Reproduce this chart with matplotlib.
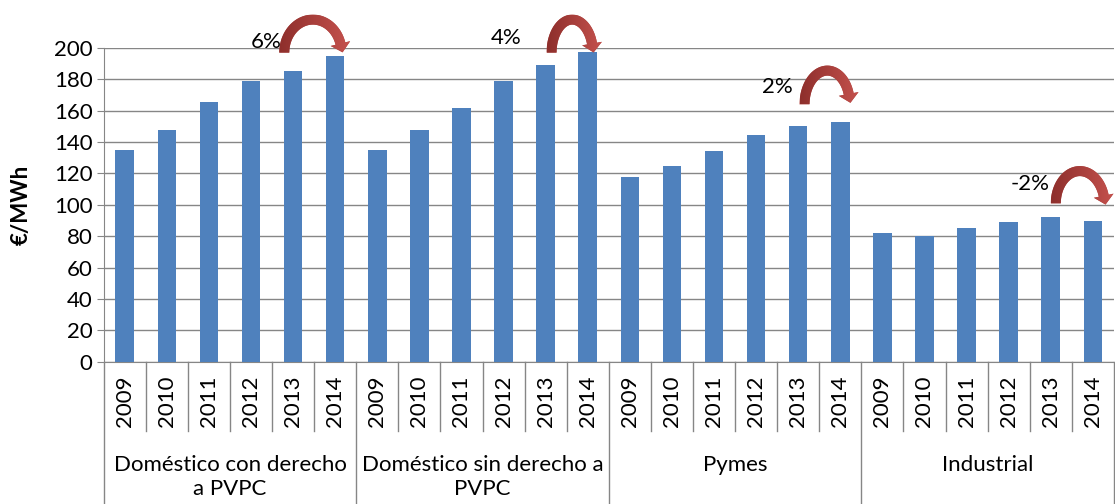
import matplotlib.pyplot as plt
from matplotlib.patches import Polygon
from matplotlib.colors import LinearSegmentedColormap
import matplotlib.transforms as mtrans
import numpy as np

plt.rcParams['font.family'] = ['Lato', 'DejaVu Sans']

years = ['2009', '2010', '2011', '2012', '2013', '2014']
groups = ['Doméstico con derecho\na PVPC', 'Doméstico sin derecho a\nPVPC', 'Pymes', 'Industrial']
dom_con = [135, 148, 165.5, 179, 185, 195]
dom_sin = [135, 148, 161.5, 179, 189, 197.5]
pymes = [117.5, 124.5, 134.5, 144.5, 150, 152.5]
industrial = [82, 80, 85.5, 89, 92, 89.5]
changes = ['6%', '4%', '2%', '-2%']

values = dom_con + dom_sin + pymes + industrial
n = len(years)

fig = plt.figure(figsize=(11.15, 5.04), dpi=100)
ax = fig.add_axes([0.093, 0.282, 0.906, 0.623])

x = np.arange(len(values))
ax.bar(x, values, width=0.44, color='#4F81BD', zorder=3)

XLIM = (-0.5, len(values) - 0.5)
YLIM = (0, 200)
ax.set_xlim(*XLIM)
ax.set_ylim(*YLIM)
ax.set_yticks(range(0, 201, 20))
ax.tick_params(axis='y', labelsize=16, length=5, color='#868686', pad=3)
ax.set_xticks([])
ax.yaxis.grid(True, color='#868686', linewidth=1)
ax.set_axisbelow(True)
for s in ['top', 'right']:
  ax.spines[s].set_visible(False)
for s in ['left', 'bottom']:
  ax.spines[s].set_color('#868686')
ax.set_ylabel('€/MWh', fontsize=16, fontweight='bold')
ax.yaxis.set_label_coords(-0.071, 0.5)

# multi level category axis
trans = mtrans.blended_transform_factory(ax.transData, ax.transAxes)
for i in range(len(values) + 1):
  xb = i - 0.5
  y_end = -0.46 if i % n == 0 else -0.22
  ax.plot([xb, xb], [0, y_end], color='#868686', lw=1, transform=trans, clip_on=False)
for i, v in enumerate(values):
  ax.text(i, -0.125, years[i % n], rotation=90, ha='center', va='center',
          fontsize=16, transform=trans)
for g, name in enumerate(groups):
  ax.text(g * n + (n - 1) / 2, -0.298, name, ha='center', va='top',
          fontsize=16, transform=trans, linespacing=1.2)


# build a curved arrow polygon (in pixels, then back to data coords)
def arch_arrow(xa, ya, xb, yb, ry=33, hw=5, hh=10, hl=9):
  T = ax.transData
  (Lx, Ly), (Rx, Ry) = T.transform([(xa, ya), (xb, yb)])
  cx, rx = (Lx + Rx) / 2, (Rx - Lx) / 2
  t_end = np.arcsin(min(hl / ry, 1.0))
  ts = np.linspace(np.pi, t_end, 60)
  base = Ly + (Ry - Ly) * (1 - ts / np.pi)
  px = cx + rx * np.cos(ts)
  py = base + ry * np.sin(ts)
  tx, ty = rx * np.sin(ts), -ry * np.cos(ts)
  norm = np.hypot(tx, ty)
  tx, ty = tx / norm, ty / norm
  nx, ny = -ty, tx
  outer = np.column_stack([px + nx * hw, py + ny * hw])
  inner = np.column_stack([px - nx * hw, py - ny * hw])
  bx, by = px[-1], py[-1]
  head = np.array([[bx + nx[-1] * hh, by + ny[-1] * hh],
                   [bx + tx[-1] * hl, by + ty[-1] * hl],
                   [bx - nx[-1] * hh, by - ny[-1] * hh]])
  pts = np.vstack([outer, head, inner[::-1]])
  return T.inverted().transform(pts)


cmap = LinearSegmentedColormap.from_list('arr', ['#8E2F2C', '#C4514D'])
arrow_spec = [(-0.21, 0.15, 197, 197), (0.14, 0.12, 197, 197), (0.15, 0.22, 164, 165), (0.12, 0.28, 101, 100)]
label_spec = [(-0.65, 204), (-0.93, 206), (-0.49, 175), (-0.49, 113)]
for g in range(len(groups)):
  i13 = g * n + 4
  i14 = g * n + 5
  dx0, dx1, y0, y1 = arrow_spec[g]
  pts = arch_arrow(i13 + dx0, y0, i14 + dx1, y1)
  poly = Polygon(pts, closed=True, facecolor='#B04440', edgecolor='none',
                 clip_on=False, zorder=5)
  ax.add_patch(poly)
  xmin, ymin = pts.min(axis=0)
  xmax, ymax = pts.max(axis=0)
  im = ax.imshow(np.linspace(0, 1, 64).reshape(1, -1), cmap=cmap, aspect='auto',
                 extent=[xmin, xmax, ymin, ymax], zorder=6, interpolation='bilinear')
  im.set_clip_box(fig.bbox)
  im.set_clip_path(poly)
  lx, ly = label_spec[g]
  ax.text(i13 + lx, ly, changes[g], ha='center', va='center', fontsize=16, zorder=7)

ax.set_xlim(*XLIM)
ax.set_ylim(*YLIM)

fig.savefig('out.png', dpi=100)
